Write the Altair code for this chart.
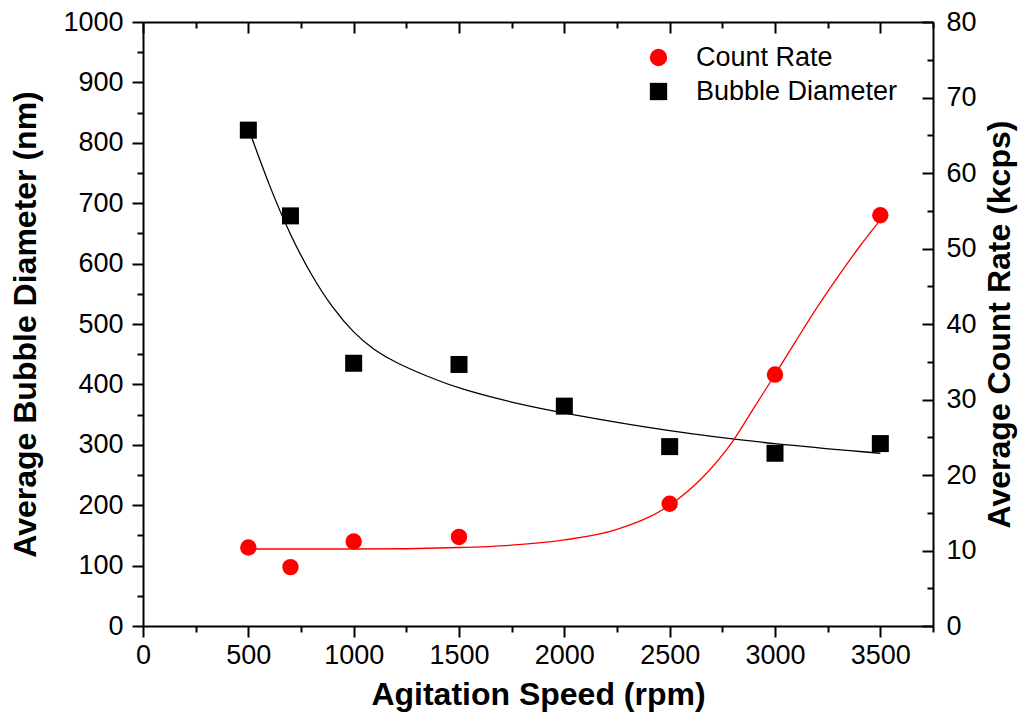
import altair as alt
import pandas as pd

# ---- data ----
speed = [500, 700, 1000, 1500, 2000, 2500, 3000, 3500]
diameter = [821, 679, 435, 433, 364, 297, 286, 302]

count_speed = [500, 700, 1000, 1500, 2500, 3000, 3500]
count_rate = [10.4, 7.8, 11.2, 11.8, 16.2, 33.3, 54.4]

diam_fit_speed = [500, 600, 700, 800, 900, 1000, 1100, 1200, 1350, 1500, 1750, 2000, 2500, 3000, 3500]
diam_fit = [824, 728, 646, 580, 526, 485, 456, 436, 413, 393, 370, 352, 322, 301, 286]

rate_fit_speed = [500, 1000, 1500, 1750, 2000, 2250, 2500, 2650, 2800, 2900, 3000, 3100, 3200, 3300, 3400, 3500]
rate_fit = [10.2, 10.2, 10.4, 10.7, 11.4, 12.8, 16.0, 19.5, 24.5, 28.9, 33.3, 37.8, 42.2, 46.3, 50.2, 53.8]

series_names = ["Count Rate", "Bubble Diameter"]
series_colors = ["#ff0000", "#000000"]
series_shapes = ["circle", "square"]

x_major = [0, 500, 1000, 1500, 2000, 2500, 3000, 3500]
x_minor = [250, 750, 1250, 1750, 2250, 2750, 3250, 3750]
yl_major = [0, 100, 200, 300, 400, 500, 600, 700, 800, 900, 1000]
yl_minor = [50, 150, 250, 350, 450, 550, 650, 750, 850, 950]
yr_major = [0, 10, 20, 30, 40, 50, 60, 70, 80]
yr_minor = [5, 15, 25, 35, 45, 55, 65, 75]

# ---- tables ----
diam_df = pd.DataFrame({"speed": speed, "value": diameter, "series": series_names[1]})
rate_df = pd.DataFrame({"speed": count_speed, "value": count_rate, "series": series_names[0]})
diam_fit_df = pd.DataFrame({"speed": diam_fit_speed, "value": diam_fit})
rate_fit_df = pd.DataFrame({"speed": rate_fit_speed, "value": rate_fit})

W, H = 790, 604
FONT = "Liberation Sans"
TITLE_SIZE = 32

xs = alt.Scale(domain=[0, 3750], nice=False, zero=False)
yl = alt.Scale(domain=[0, 1000], nice=False)
yr = alt.Scale(domain=[0, 80], nice=False)

base = dict(domainColor="black", domainWidth=2, tickColor="black", tickWidth=2,
            labelColor="black", labelFont=FONT, labelFontSize=27, grid=False,
            labelFlush=False, format="d")

legend = alt.Legend(title=None, orient="none", legendX=502, legendY=22,
                    labelFont=FONT, labelFontSize=27, labelColor="black", labelLimit=400,
                    symbolSize=300, symbolStrokeWidth=0, rowPadding=6,
                    labelOffset=24, symbolOpacity=1, padding=0)
color = alt.Color("series:N", scale=alt.Scale(domain=series_names, range=series_colors), legend=legend)
shape = alt.Shape("series:N", scale=alt.Scale(domain=series_names, range=series_shapes), legend=legend)

# black fitted curve: bottom major axis + left major axis
l1 = alt.Chart(diam_fit_df).mark_line(color="black", strokeWidth=1.3, interpolate="basis").encode(
    x=alt.X("speed:Q", scale=xs, axis=alt.Axis(
        orient="bottom", values=x_major, tickSize=11, labelPadding=5,
        title="Agitation Speed (rpm)", titleFont=FONT, titleFontSize=TITLE_SIZE,
        titleFontWeight="bold", titleColor="black", titlePadding=11, **base)),
    y=alt.Y("value:Q", scale=yl, axis=alt.Axis(
        orient="left", values=yl_major, tickSize=11, labelPadding=9,
        title="Average Bubble Diameter (nm)", titleFont=FONT, titleFontSize=TITLE_SIZE,
        titleFontWeight="bold", titleColor="black", titlePadding=20, **base)),
)

# red fitted curve: top major (inward) + right labels/title
l3 = alt.Chart(rate_fit_df).mark_line(color="#ff0000", strokeWidth=1.3, interpolate="monotone").encode(
    x=alt.X("speed:Q", scale=xs, axis=alt.Axis(
        orient="bottom", offset=-H, values=x_major, tickSize=11, labels=False,
        title=None, **base)),
    y=alt.Y("value:Q", scale=yr, axis=alt.Axis(
        orient="right", values=yr_major, ticks=False, labelPadding=13,
        title="Average Count Rate (kcps)", titleFont=FONT, titleFontSize=TITLE_SIZE,
        titleFontWeight="bold", titleColor="black", titleAngle=270, titlePadding=40, **base)),
)

# squares: bottom minor + left minor
l2 = alt.Chart(diam_df).mark_point(filled=True, opacity=1, strokeWidth=0).encode(
    x=alt.X("speed:Q", scale=xs, axis=alt.Axis(
        orient="bottom", values=x_minor, tickSize=6, labels=False, domain=False,
        title=None, **base)),
    y=alt.Y("value:Q", scale=yl, axis=alt.Axis(
        orient="left", values=yl_minor, tickSize=6, labels=False, domain=False,
        title=None, **base)),
    color=color, shape=shape, size=alt.value(289),
)

# circles: top minor (inward) + right major (inward)
l4 = alt.Chart(rate_df).mark_point(filled=True, opacity=1, strokeWidth=0).encode(
    x=alt.X("speed:Q", scale=xs, axis=alt.Axis(
        orient="bottom", offset=-H, values=x_minor, tickSize=6, labels=False,
        domain=False, title=None, **base)),
    y=alt.Y("value:Q", scale=yr, axis=alt.Axis(
        orient="left", offset=-W, values=yr_major, tickSize=11, labels=False,
        domain=False, title=None, **base)),
    color=color, shape=shape, size=alt.value(270),
)

# invisible layer carrying right minor (inward) ticks
l5 = alt.Chart(rate_df).mark_point(opacity=0).encode(
    x=alt.X("speed:Q", scale=xs, axis=None),
    y=alt.Y("value:Q", scale=yr, axis=alt.Axis(
        orient="left", offset=-W, values=yr_minor, tickSize=6, labels=False,
        domain=False, title=None, **base)),
)

chart = alt.layer(l1, l3, l2, l4, l5).resolve_scale(
    x="independent", y="independent"
).properties(
    width=W, height=H,
    autosize=alt.AutoSizeParams(type="none"),
    padding={"left": 135, "top": 14, "right": 88, "bottom": 92},
).configure_view(stroke=None)

chart.save("out.html", embed_options={"renderer": "svg", "actions": False})
